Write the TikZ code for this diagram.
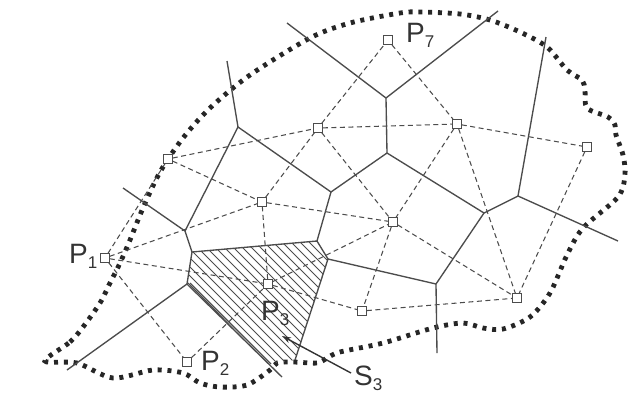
\documentclass[tikz,border=0pt]{standalone}
\usepackage{fontspec}
\setmainfont{Liberation Sans}
\usetikzlibrary{arrows.meta}
\definecolor{inkc}{gray}{0.3}
\definecolor{labc}{gray}{0.2}
\newcommand{\lbl}[2]{#1\raisebox{-5pt}{\fontsize{17}{17}\selectfont #2}}
\tikzset{
  sitebox/.style={draw=inkc,fill=white,line width=1.1pt,minimum size=8.5pt,inner sep=0pt,rectangle},
  celledge/.style={draw=inkc,line width=1.35pt,line join=round},
  linkdash/.style={draw=inkc,line width=1.05pt,dash pattern=on 5pt off 3.5pt},
  boundline/.style={draw=black!85,line width=4.8pt,dash pattern=on 4pt off 5.8pt},
  hatchline/.style={draw=inkc,line width=0.9pt},
  plabel/.style={text=labc,font=\fontsize{28}{28}\selectfont,inner sep=0pt,anchor=base west}
}
\begin{document}
\begin{tikzpicture}[x=1pt,y=-1pt]
\useasboundingbox (0,0) rectangle (635,400);
% boundary
\draw[boundline] plot[smooth cycle,tension=0.5] coordinates {
(45,361)(70,342)(83,327)(100,303)(110,283)(120,263)(130,240)(143,208)(160,172)(183,138)(210,108)(250,75)(310,38)(350,23)(400,13)(420,12)(460,14)(490,20)(520,32)(547,47)(567,70)(582,80)(585,90)(587,108)(608,117)(615,125)(616,135)(623,155)(625,175)(618,197)(583,228)(567,255)(550,293)(530,317)(503,329)(483,328)(463,323)(433,328)(383,343)(340,352)(327,358)(317,363)(293,362)(277,363)(270,370)(247,385)(220,387)(200,383)(183,373)(153,370)(113,378)(77,363)};
% cell vertices
\coordinate (A) at (238,127);
\coordinate (B) at (331,192);
\coordinate (C) at (387,153);
\coordinate (D) at (386,98);
\coordinate (E) at (185,231);
\coordinate (F) at (192,252);
\coordinate (G) at (187,284);
\coordinate (G2) at (190,283);
\coordinate (H) at (317,241);
\coordinate (I) at (328,259);
\coordinate (J) at (295,360);
\coordinate (K) at (436,284);
\coordinate (L) at (484,213);
\coordinate (M) at (518,196);
\coordinate (e1) at (227,61);
\coordinate (e2) at (287,23);
\coordinate (e3) at (498,11);
\coordinate (e4) at (546,37);
\coordinate (e5) at (618,241);
\coordinate (e6) at (437,353);
\coordinate (e7) at (282,377);
\coordinate (e8) at (67,370);
\coordinate (e9) at (123,188);
\coordinate (e10) at (271,364);
% hatching of S3
\begin{scope}
\clip (F) -- (H) -- (I) -- (J) -- (e10) -- (G) -- cycle;
\foreach \o in {-90,-81,...,140} {
  \draw[hatchline] (190+\o,240) -- (315+\o,365);
}
\end{scope}
% cell edges
\draw[celledge] (e9) -- (E) -- (F) -- (G) -- (e8);
\draw[celledge] (E) -- (A) -- (e1);
\draw[celledge] (A) -- (B) -- (C) -- (D) -- (e2);
\draw[celledge] (D) -- (e3);
\draw[celledge] (B) -- (H);
\draw[celledge] (F) -- (H) -- (I) -- (J);
\draw[celledge] (G) -- (e7);
\draw[celledge] (G2) -- (e10);
\draw[celledge] (I) -- (K) -- (e6);
\draw[celledge] (K) -- (L) -- (M) -- (e5);
\draw[celledge] (C) -- (L);
\draw[celledge] (M) -- (e4);
% sites
\node[sitebox] (P1) at (105,258) {};
\node[sitebox] (P2) at (187,362) {};
\node[sitebox] (P3) at (268,284) {};
\node[sitebox] (P4) at (168,159) {};
\node[sitebox] (P5) at (262,202) {};
\node[sitebox] (P6) at (318,128) {};
\node[sitebox] (P7) at (388,40) {};
\node[sitebox] (P8) at (457,124) {};
\node[sitebox] (P9) at (587,147) {};
\node[sitebox] (P10) at (393,222) {};
\node[sitebox] (P11) at (362,311) {};
\node[sitebox] (P12) at (517,298) {};
% links
\foreach \a/\b in {P1/P4,P1/P5,P1/P3,P1/P2,P2/P3,P3/P5,P3/P10,P3/P11,P4/P5,P4/P6,P5/P6,P5/P10,P6/P7,P6/P8,P6/P10,P7/P8,P8/P9,P8/P10,P8/P12,P9/P12,P10/P11,P10/P12,P11/P12}
  \draw[linkdash] (\a) -- (\b);
% labels
\node[plabel] (l1) at (69,263) {\lbl{P}{1}};
\node[plabel] (l2) at (201,370) {\lbl{P}{2}};
\node[plabel] (l3) at (261,320) {\lbl{P}{3}};
\node[plabel] (l7) at (406,42) {\lbl{P}{7}};
\node[plabel] (l8) at (354,385) {\lbl{S}{3}};
\coordinate (tip) at (282,336);
\coordinate (tail) at (351,373);
\draw[draw=black!80,line width=1.4pt,-{Stealth[length=9pt,width=6pt]}] (tail) -- (tip);
\end{tikzpicture}
\end{document}
